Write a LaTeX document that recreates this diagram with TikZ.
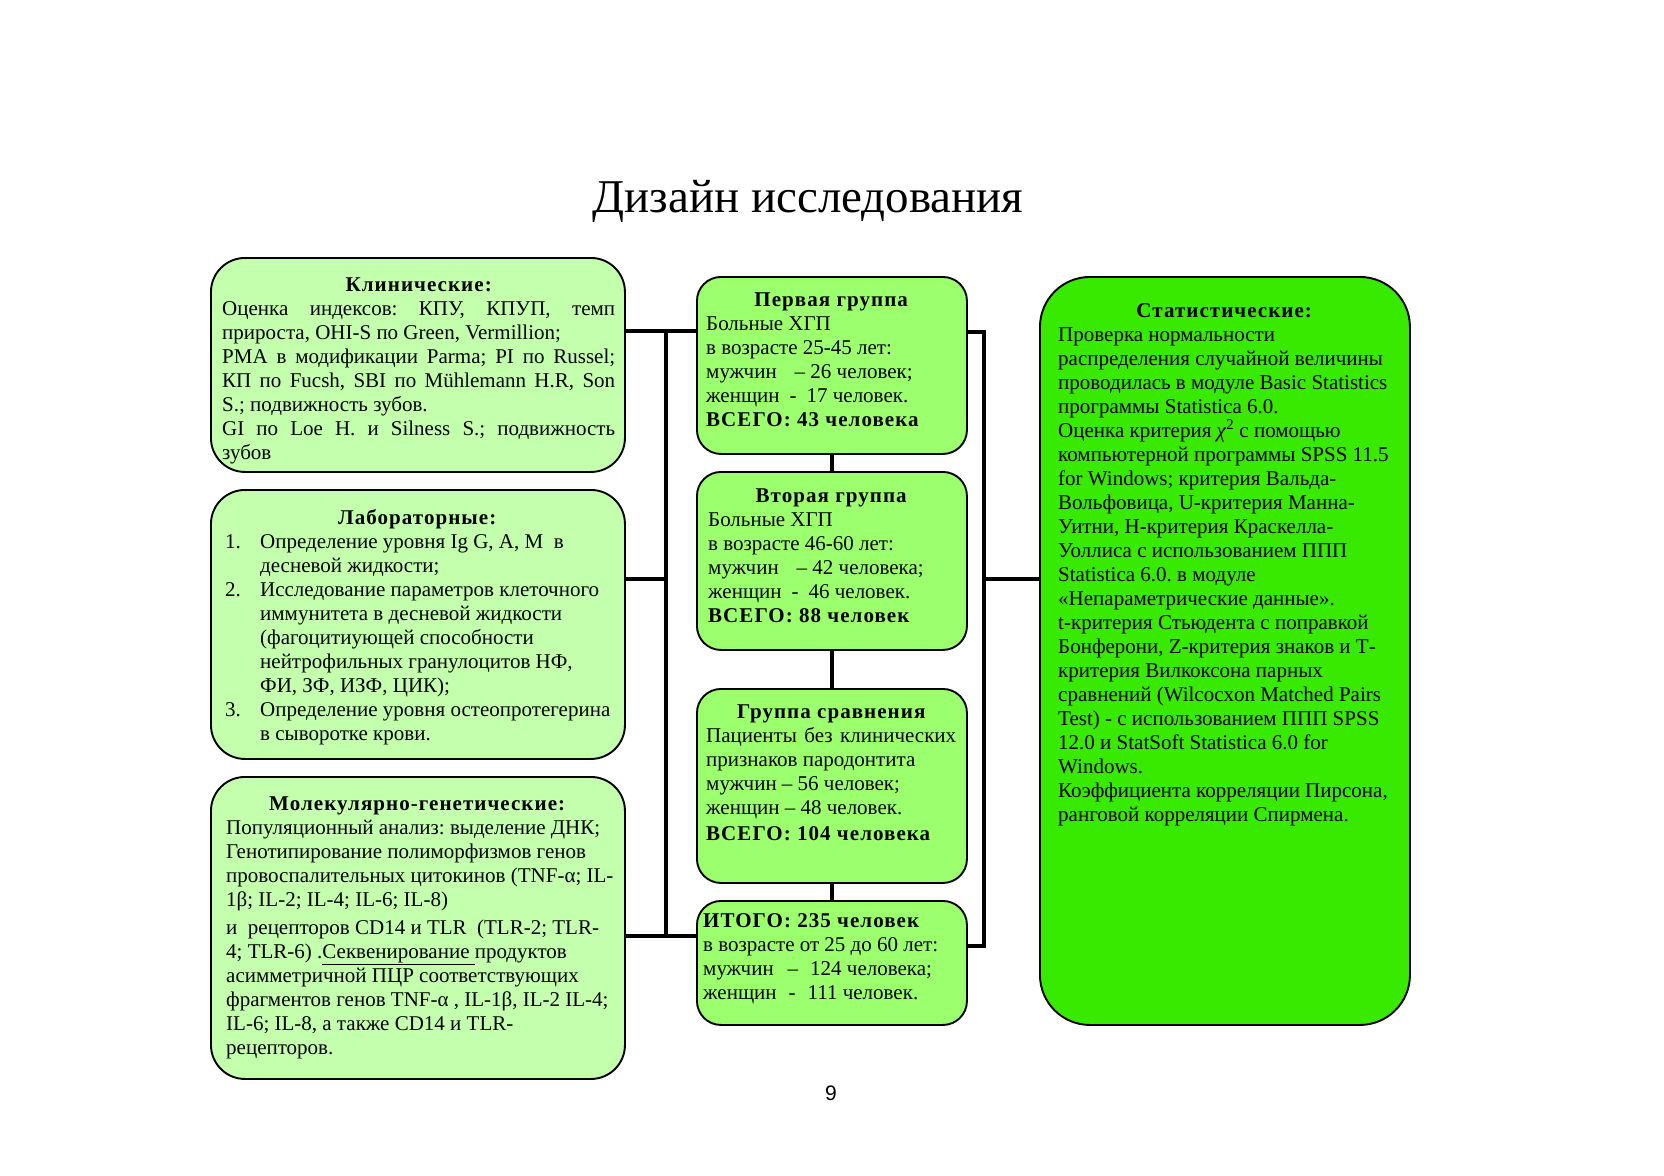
\documentclass[tikz,border=0pt]{standalone}
\usepackage{fontspec}
\setmainfont{Liberation Serif}[BoldFeatures={LetterSpace=5}]
\newfontfamily\pgnumfont{Liberation Sans}
\definecolor{lgreen}{RGB}{195,255,172}
\definecolor{mgreen}{RGB}{155,255,110}
\definecolor{dgreen}{RGB}{56,234,0}
\frenchspacing
\begin{document}
\begin{tikzpicture}[x=1pt,y=-1pt,
  boxbase/.style={draw=black,line width=1.9pt,anchor=north west,inner sep=0pt},
  lbox/.style={boxbase,fill=lgreen,rounded corners=34pt},
  cbox/.style={boxbase,fill=mgreen,rounded corners=24pt},
  sbox/.style={boxbase,fill=dgreen,rounded corners=50pt},
  txt/.style={anchor=north west,inner sep=0pt,align=left,font=\fontsize{21}{24}\selectfont},
  conn/.style={draw=black,line width=3.2pt},
  sideconn/.style={draw=black,line width=3.2pt}]
\useasboundingbox[fill=white] (0,0) rectangle (1664,1175);

% title
\node[font=\fontsize{47}{54}\selectfont,anchor=base] (title) at (808,212) {Дизайн исследования};

% boxes
\node[lbox,minimum width=414pt,minimum height=214pt] (klin) at (210,257) {};
\node[lbox,minimum width=414pt,minimum height=269pt] (lab) at (210,489) {};
\node[lbox,minimum width=414pt,minimum height=302pt] (mol) at (210,776) {};
\node[cbox,minimum width=270pt,minimum height=177pt] (g1) at (696,276) {};
\node[cbox,minimum width=270pt,minimum height=178pt] (g2) at (696,471) {};
\node[cbox,minimum width=270pt,minimum height=194pt] (g3) at (696,688) {};
\node[cbox,minimum width=270pt,minimum height=124pt] (tot) at (696,900) {};
\node[sbox,minimum width=370pt,minimum height=748pt] (stat) at (1039,276) {};

% connector junctions
\coordinate (jl) at (666,331);
\coordinate (jlm) at (666,579);
\coordinate (jlb) at (666,936);
\coordinate (jr) at (984,332);
\coordinate (jrm) at (984,579);
\coordinate (jrb) at (984,946);

\draw[conn] (klin.east |- jl) -- (g1.west |- jl);
\draw[conn,line width=3.8pt] (jl) -- (jlb);
\draw[sideconn] (lab.east |- jlm) -- (jlm);
\draw[conn] (mol.east |- jlb) -- (tot.west |- jlb);
\draw[conn] (g1.east |- jr) -- (jr) -- (jrb) -- (tot.east |- jrb);
\draw[sideconn] (jrm) -- (stat.west |- jrm);
\draw[conn] (g1.south) -- (g2.north);
\draw[conn] (g2.south) -- (g3.north);
\draw[conn] (g3.south) -- (tot.north);

% texts
\node[txt] (klin-t) at (222,274.2) {\strut\makebox[393pt][c]{\bfseries Клинические:}\\
\makebox[393pt][s]{Оценка индексов: КПУ, КПУП, темп}\\
прироста, OHI-S по Green, Vermillion;\\
\makebox[393pt][s]{РМА в модификации Parma; PI по Russel;}\\
\makebox[393pt][s]{КП по Fucsh, SBI по Mühlemann H.R, Son}\\
S.; подвижность зубов.\\
\makebox[393pt][s]{GI по Loe H. и Silness S.; подвижность}\\
зубов};

\node[txt] (lab-t) at (225,507.2) {\strut\makebox[384pt][c]{\bfseries Лабораторные:}\\
\makebox[35pt][l]{1.}Определение уровня Ig G, A, M\ \ в\\
\hspace*{35pt}десневой жидкости;\\
\makebox[35pt][l]{2.}Исследование параметров клеточного\\
\hspace*{35pt}иммунитета в десневой жидкости\\
\hspace*{35pt}(фагоцитиующей способности\\
\hspace*{35pt}нейтрофильных гранулоцитов НФ,\\
\hspace*{35pt}ФИ, ЗФ, ИЗФ, ЦИК);\\
\makebox[35pt][l]{3.}Определение уровня остеопротегерина\\
\hspace*{35pt}в сыворотке крови.};

\node[txt] (mol-t) at (226,793.2) {\strut\makebox[382pt][c]{\bfseries Молекулярно-генетические:}\\
Популяционный анализ: выделение ДНК;\\
Генотипирование полиморфизмов генов\\
провоспалительных цитокинов (TNF-α; IL-\\
1β; IL-2; IL-4; IL-6; IL-8)\\[4pt]
и\ \ рецепторов CD14 и TLR\ \ (TLR-2; TLR-\\
4; TLR-6) .\underline{Секвенирование }продуктов\\
асимметричной ПЦР соответствующих\\
фрагментов генов TNF-α , IL-1β, IL-2 IL-4;\\
IL-6; IL-8, а также CD14 и TLR-\\
рецепторов.};

\node[txt] (g1-t) at (706,289.2) {\strut\makebox[250pt][c]{\bfseries Первая группа}\\
Больные ХГП\\
в возрасте 25-45 лет:\\
мужчин\hspace{18pt}– 26 человек;\\
женщин\hspace{10pt}-\hspace{10pt}17 человек.\\
\textbf{ВСЕГО: 43 человека}};

\node[txt] (g2-t) at (708,485.2) {\strut\makebox[246pt][c]{\bfseries Вторая группа}\\
Больные ХГП\\
в возрасте 46-60 лет:\\
мужчин\hspace{18pt}– 42 человека;\\
женщин\hspace{10pt}-\hspace{10pt}46 человек.\\
\textbf{ВСЕГО: 88 человек}};

\node[txt] (g3-t) at (706,701.2) {\strut\makebox[250pt][c]{\bfseries Группа сравнения}\\
\makebox[250pt][s]{Пациенты без клинических}\\
признаков пародонтита\\
мужчин – 56 человек;\\
женщин – 48 человек.\\[2pt]
\textbf{ВСЕГО: 104 человека}};

\node[txt] (tot-t) at (703,910.2) {\strut\textbf{ИТОГО: 235 человек}\\
в возрасте от 25 до 60 лет:\\
мужчин\hspace{14pt}–\hspace{12pt}124 человека;\\
женщин\hspace{12pt}-\hspace{12pt}111 человек.};

\node[txt] (stat-t) at (1058,300.2) {\strut\makebox[332pt][c]{\bfseries Статистические:}\\
Проверка нормальности\\
распределения случайной величины\\
проводилась в модуле Basic Statistics\\
программы Statistica 6.0.\\
Оценка критерия \textit{χ}\textsuperscript{2} с помощью\\
компьютерной программы SPSS 11.5\\
for Windows; критерия Вальда-\\
Вольфовица, U-критерия Манна-\\
Уитни, Н-критерия Краскелла-\\
Уоллиса с использованием ППП\\
Statistica 6.0. в модуле\\
«Непараметрические данные».\\
t-критерия Стьюдента с поправкой\\
Бонферони, Z-критерия знаков и Т-\\
критерия Вилкоксона парных\\
сравнений (Wilcocxon Matched Pairs\\
Test) - с использованием ППП SPSS\\
12.0 и StatSoft Statistica 6.0 for\\
Windows.\\
Коэффициента корреляции Пирсона,\\
ранговой корреляции Спирмена.};

% page number
\node[font=\pgnumfont\fontsize{21}{24}\selectfont,anchor=base] (pgnum) at (831,1100) {9};
\end{tikzpicture}
\end{document}
